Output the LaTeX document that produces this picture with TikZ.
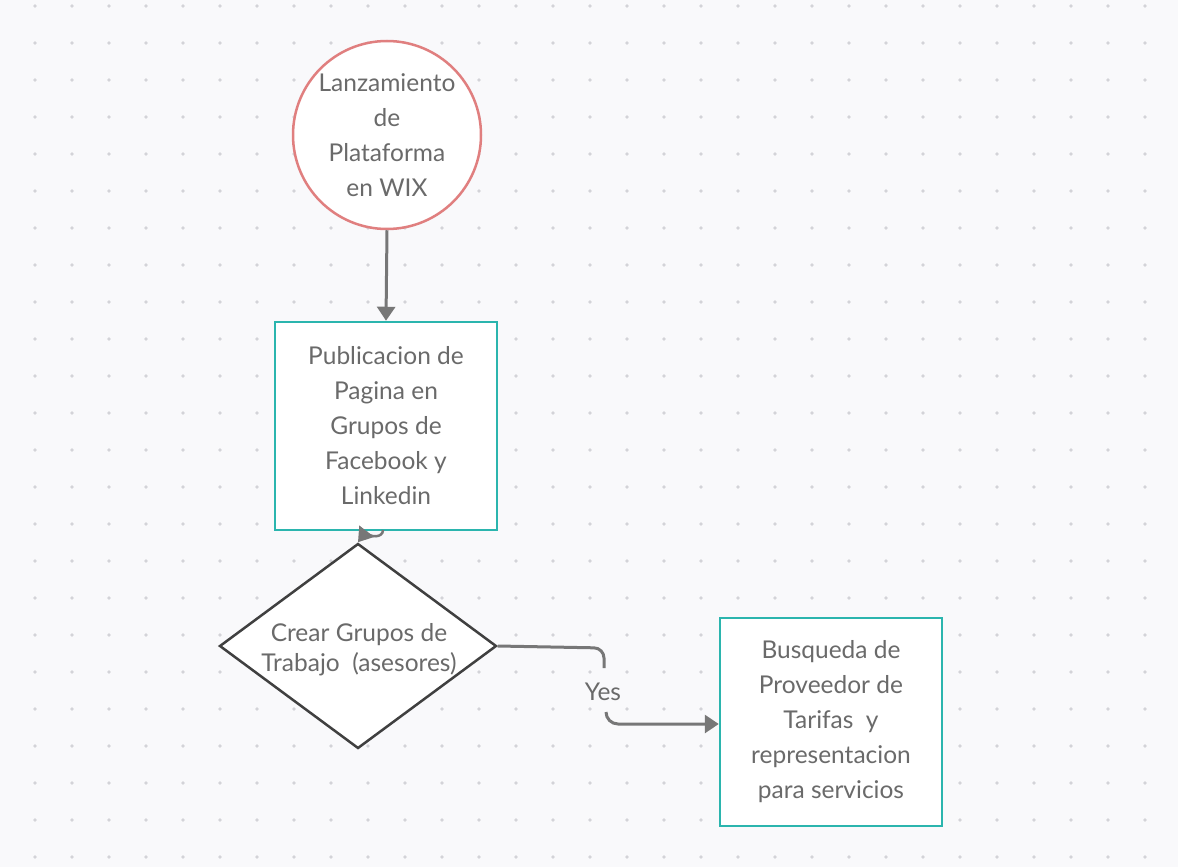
\documentclass[tikz,border=0pt]{standalone}
\usepackage{fontspec}
\setmainfont{Lato}
\usetikzlibrary{shapes.geometric,arrows.meta}
\definecolor{bg}{HTML}{F9F9FB}
\definecolor{dotc}{HTML}{D3D3D8}
\definecolor{txt}{HTML}{6A6A6A}
\definecolor{conn}{HTML}{777777}
\definecolor{teal}{HTML}{2BB5AE}
\definecolor{redc}{HTML}{E07F7F}
\tikzset{
  lbl/.style={text=txt,font=\fontsize{24.5}{35}\selectfont,align=center},
  boxnode/.style={draw=teal,line width=2.5pt,fill=white,minimum width=222pt,minimum height=208pt,inner sep=0pt},
  startnode/.style={circle,draw=redc,line width=2.5pt,fill=white,minimum size=188pt,inner sep=0pt},
  decnode/.style={diamond,draw=black!75,line width=2.5pt,fill=white,minimum width=277pt,minimum height=205pt,inner sep=0pt,aspect=1.35},
  conn/.style={draw=conn,line width=3pt,-{Triangle[length=14pt,width=18pt]}},
  connplain/.style={draw=conn,line width=3pt}
}
\begin{document}
\begin{tikzpicture}[x=1pt,y=-1pt]
\fill[bg] (0,0) rectangle (1178,867);
\useasboundingbox (0,0) rectangle (1178,867);
\foreach \i in {0,...,31} {\foreach \j in {0,...,23} {\fill[dotc] (35+37*\i,6+37*\j) circle (1.8pt);}}
\node[startnode] (start) at (387,135) {};
\node[lbl] at (start) {Lanzamiento\\de\\Plataforma\\en WIX};
\node[boxnode] (pub) at (386,426) {};
\node[lbl] at (pub) {Publicacion de\\Pagina en\\Grupos de\\Facebook  y\\Linkedin};
\node[decnode] (dec) at (358,646) {};
\node[lbl,font=\fontsize{24.5}{30}\selectfont] at (359,650) {Crear Grupos de\\Trabajo~~(asesores)};
\node[boxnode] (bus) at (831,722) {};
\node[lbl] at (bus) {Busqueda de\\Proveedor de\\Tarifas~~y\\representacion\\para servicios};
\node[lbl] (yes) at (603,692) {Yes};
\draw[conn] (start.south) -- (pub.north);
\coordinate (p1) at (383,530);
\draw[conn,line width=2.5pt] (p1) .. controls (383,538) and (370,538) .. (366,532) -- (dec.north);
\draw[connplain,rounded corners=10pt] (dec.east) -- (604,648) -- (604,668);
\draw[conn,rounded corners=12pt] (606,712) -- (606,724) -- (bus.west |- 0,724);
\end{tikzpicture}
\end{document}
